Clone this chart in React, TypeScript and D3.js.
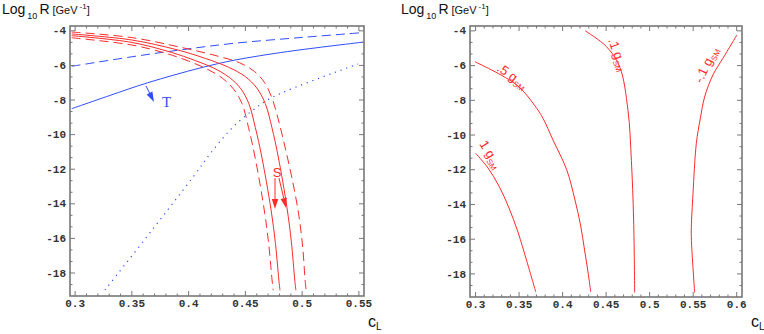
import React from "react";
import * as d3 from "d3";

type P = [number, number];

// ---------- Left panel data (c_L, log10 R) ----------
const blueSolid: P[] = [[0.297,-8.5],[0.33,-7.75],[0.364,-7.0],[0.41,-6.15],[0.44,-5.7],[0.487,-5.2],[0.554,-4.65]];
const blueDashed: P[] = [[0.297,-6.05],[0.35,-5.5],[0.393,-5.1],[0.44,-4.72],[0.5,-4.38],[0.554,-4.1]];
const blueDotted: P[] = [[0.3263,-18.98],[0.3686,-15.45],[0.4039,-12.45],[0.4215,-10.89],[0.4391,-9.56],[0.4567,-8.58],[0.4744,-7.82],[0.5493,-5.92]];
const redDashR: P[] = [[0.297,-4.07],[0.35,-4.39],[0.395,-4.98],[0.425,-5.45],[0.445,-5.85],[0.458,-6.35],[0.467,-7.0],[0.4735,-7.9],[0.4785,-9.0],[0.4845,-10.6],[0.491,-12.5],[0.4968,-14.54],[0.5005,-16.5],[0.5026,-18.4],[0.5035,-19.0]];
const redSolidR: P[] = [[0.297,-4.18],[0.35,-4.53],[0.39,-5.1],[0.415,-5.6],[0.435,-6.1],[0.45,-6.65],[0.46,-7.3],[0.4675,-8.2],[0.4734,-9.6],[0.479,-11.3],[0.4866,-14.2],[0.4905,-16.2],[0.4935,-18.4],[0.4945,-19.0]];
const redSolidL: P[] = [[0.297,-4.28],[0.35,-4.67],[0.385,-5.25],[0.405,-5.7],[0.422,-6.15],[0.436,-6.7],[0.446,-7.35],[0.453,-8.2],[0.4588,-9.6],[0.4645,-11.3],[0.4725,-14.3],[0.4765,-16.3],[0.4795,-18.4],[0.4805,-19.0]];
const redDashL: P[] = [[0.297,-4.4],[0.35,-4.82],[0.38,-5.3],[0.4,-5.75],[0.416,-6.2],[0.43,-6.75],[0.44,-7.4],[0.447,-8.2],[0.4528,-9.6],[0.4585,-11.3],[0.4665,-14.3],[0.4705,-16.3],[0.4735,-18.4],[0.4745,-19.0]];

// ---------- Right panel contour data ----------
const contour1: P[] = [[0.3001,-11.05],[0.3143,-11.9],[0.3269,-12.94],[0.3384,-14.2],[0.3487,-15.59],[0.3591,-17.31],[0.3691,-19.03]];
const contour05: P[] = [[0.2993,-5.78],[0.3473,-7.12],[0.3702,-8.46],[0.3775,-9.04],[0.389,-10.29],[0.4047,-12.0],[0.4142,-13.74],[0.4206,-15.18],[0.4252,-16.62],[0.4292,-17.89],[0.4323,-19.03]];
const contour01: P[] = [[0.426,-4.0],[0.4502,-4.9],[0.4655,-6.06],[0.4751,-8.57],[0.479,-11.46],[0.4816,-14.9],[0.4828,-19.07]];
const contourM01: P[] = [[0.6003,-4.23],[0.5842,-5.58],[0.5727,-6.54],[0.5632,-7.8],[0.5582,-9.05],[0.5536,-10.49],[0.5498,-13.38],[0.5479,-15.31],[0.548,-16.08],[0.5517,-19.07]];

// ---------- Ticks ----------
const yTicks = [-4, -6, -8, -10, -12, -14, -16, -18];
const xTicksLeft = [0.3, 0.35, 0.4, 0.45, 0.5, 0.55];
const xTicksRight = [0.3, 0.35, 0.4, 0.45, 0.5, 0.55, 0.6];
const xTickLabelsLeft = ["0.3", "0.35", "0.4", "0.45", "0.5", "0.55"];
const xTickLabelsRight = ["0.3", "0.35", "0.4", "0.45", "0.5", "0.55", "0.6"];

const RED = "#ff2a2a";
const BLUE = "#2f4dff";
const FRAME = "#777";
const MONO = "'Liberation Mono', 'Courier New', monospace";
const SANS = "'Liberation Sans', Arial, sans-serif";

function frameTicks(
  x: d3.ScaleLinear<number, number>,
  y: d3.ScaleLinear<number, number>,
  xMajor: number[],
  xLabels: string[],
  key: string
) {
  const [x0, x1] = x.range();
  const [y0, y1] = y.range();
  const els: React.ReactNode[] = [];
  const [dx0, dx1] = x.domain();
  const [dyTop, dyBot] = y.domain();
  const xm = d3.range(Math.ceil(dx0 * 100), Math.floor(dx1 * 100) + 1).map((v) => v / 100);
  xm.forEach((v, i) => {
    const isMajor = xMajor.some((m) => Math.abs(m - v) < 1e-6);
    const len = isMajor ? 5 : 2.5;
    const px = x(v);
    els.push(<line key={`${key}xb${i}`} x1={px} x2={px} y1={y1} y2={y1 - len} stroke={FRAME} strokeWidth={1} />);
    els.push(<line key={`${key}xt${i}`} x1={px} x2={px} y1={y0} y2={y0 + len} stroke={FRAME} strokeWidth={1} />);
  });
  const ym: number[] = [];
  for (let k = Math.ceil(dyBot * 1.5); k <= Math.floor(dyTop * 1.5); k++) ym.push(k / 1.5);
  ym.forEach((v, i) => {
    const isMajor = Math.abs(v / 2 - Math.round(v / 2)) < 1e-6;
    const len = isMajor ? 5 : 2.5;
    const py = y(v);
    els.push(<line key={`${key}yl${i}`} x1={x0} x2={x0 + len} y1={py} y2={py} stroke={FRAME} strokeWidth={1} />);
    els.push(<line key={`${key}yr${i}`} x1={x1} x2={x1 - len} y1={py} y2={py} stroke={FRAME} strokeWidth={1} />);
  });
  yTicks.forEach((t, i) => {
    els.push(
      <text key={`${key}yl-${i}`} x={x0 - 4} y={y(t)} dy="0.33em" textAnchor="end" fontFamily={MONO} fontWeight="bold" fontSize={11} fill="#333">
        {String(t)}
      </text>
    );
  });
  xMajor.forEach((t, i) => {
    els.push(
      <text key={`${key}xl-${i}`} x={x(t)} y={y1 + 11} textAnchor="middle" fontFamily={MONO} fontWeight="bold" fontSize={11} fill="#333">
        {xLabels[i]}
      </text>
    );
  });
  els.push(
    <rect key={`${key}frame`} x={x0} y={y0} width={x1 - x0} height={y1 - y0} fill="none" stroke={FRAME} strokeWidth={1.6} />
  );
  return els;
}

function YLabel({ x, y }: { x: number; y: number }) {
  return (
    <text x={x} y={y} fontFamily={SANS} fontSize={14} fill="#111">
      Log
      <tspan fontSize={9} dy={5} dx={2}>10</tspan>
      <tspan fontSize={14} dy={-5} dx={2}>R</tspan>
      <tspan fontSize={11} dx={3}>[GeV</tspan>
      <tspan fontSize={8} dy={-5} dx={2}>-1</tspan>
      <tspan fontSize={11} dy={5}>]</tspan>
    </text>
  );
}

function XLabel({ x, y }: { x: number; y: number }) {
  return (
    <text x={x} y={y} fontFamily={SANS} fontSize={16} fill="#111">
      c<tspan fontSize={10} dy={3}>L</tspan>
    </text>
  );
}

function arrow(x1: number, y1: number, x2: number, y2: number, color: string, key: string, hl = 10, hw = 3.2) {
  const ang = Math.atan2(y2 - y1, x2 - x1);
  const bx = x2 - hl * Math.cos(ang);
  const by = y2 - hl * Math.sin(ang);
  const nx = -Math.sin(ang) * hw;
  const ny = Math.cos(ang) * hw;
  return (
    <g key={key}>
      <line x1={x1} y1={y1} x2={bx} y2={by} stroke={color} strokeWidth={1} />
      <polygon points={`${x2},${y2} ${bx + nx},${by + ny} ${bx - nx},${by - ny}`} fill={color} />
    </g>
  );
}

function GLabel({ x, y, rot, pre }: { x: number; y: number; rot: number; pre: string }) {
  return (
    <text transform={`translate(${x},${y}) rotate(${rot})`} fontFamily={SANS} fontSize={13} fill={RED}>
      {pre} g<tspan fontSize={8} dy={3}>SM</tspan>
    </text>
  );
}

export default function App() {
  const xL = d3.scaleLinear().domain([0.2955, 0.5545]).range([70, 364]);
  const yL = d3.scaleLinear().domain([-3.72, -19.33]).range([26, 296]);
  const xR = d3.scaleLinear().domain([0.2936, 0.6061]).range([470, 742]);
  const yR = d3.scaleLinear().domain([-3.72, -19.33]).range([26, 297]);

  const lineL = d3.line<P>().x((d) => xL(d[0])).y((d) => yL(d[1])).curve(d3.curveCatmullRom.alpha(0.5));
  const lineR = d3.line<P>().x((d) => xR(d[0])).y((d) => yR(d[1])).curve(d3.curveCatmullRom.alpha(0.5));

  return (
    <svg width={764} height={334} style={{ position: "absolute", left: 0, top: 0, background: "#fff" }}>
      <rect x={0} y={0} width={764} height={334} fill="#fff" />
      <g>
        <path d={lineL(blueSolid) || ""} fill="none" stroke={BLUE} strokeWidth={1} />
        <path d={lineL(blueDashed) || ""} fill="none" stroke={BLUE} strokeWidth={1} strokeDasharray="9,5" />
        <path d={lineL(blueDotted) || ""} fill="none" stroke={BLUE} strokeWidth={1.2} strokeDasharray="1.2,4.8" />
        <path d={lineL(redDashR) || ""} fill="none" stroke={RED} strokeWidth={1} strokeDasharray="9,5" />
        <path d={lineL(redSolidR) || ""} fill="none" stroke={RED} strokeWidth={1} />
        <path d={lineL(redSolidL) || ""} fill="none" stroke={RED} strokeWidth={1} />
        <path d={lineL(redDashL) || ""} fill="none" stroke={RED} strokeWidth={1} strokeDasharray="9,5" />
        {arrow(xL(0.3625), yL(-7.19), xL(0.3695), yL(-8.11), BLUE, "tArrow")}
        <text x={xL(0.3766)} y={yL(-8.4)} fontFamily="'Liberation Serif', 'Times New Roman', serif" fontSize={15} fill={BLUE}>T</text>
        <text x={xL(0.478)} y={yL(-12.46)} textAnchor="middle" fontFamily={SANS} fontSize={13} fill={RED}>S</text>
        {arrow(xL(0.4761), yL(-12.51), xL(0.4761), yL(-14.3), RED, "sArrow1")}
        {arrow(xL(0.4796), yL(-12.51), xL(0.4858), yL(-14.24), RED, "sArrow2")}
        {frameTicks(xL, yL, xTicksLeft, xTickLabelsLeft, "L")}
        <YLabel x={2} y={14} />
        <XLabel x={368} y={327} />
      </g>
      <g>
        <path d={lineR(contour1) || ""} fill="none" stroke={RED} strokeWidth={1} />
        <path d={lineR(contour05) || ""} fill="none" stroke={RED} strokeWidth={1} />
        <path d={lineR(contour01) || ""} fill="none" stroke={RED} strokeWidth={1} />
        <path d={lineR(contourM01) || ""} fill="none" stroke={RED} strokeWidth={1} />
        <GLabel x={479} y={144} rot={58} pre="1" />
        <GLabel x={496} y={70} rot={35} pre=".5" />
        <GLabel x={608} y={40} rot={70} pre=".1" />
        <GLabel x={702} y={84} rot={-65} pre="-.1" />
        {frameTicks(xR, yR, xTicksRight, xTickLabelsRight, "R")}
        <YLabel x={401} y={14} />
        <XLabel x={751} y={327} />
      </g>
    </svg>
  );
}
